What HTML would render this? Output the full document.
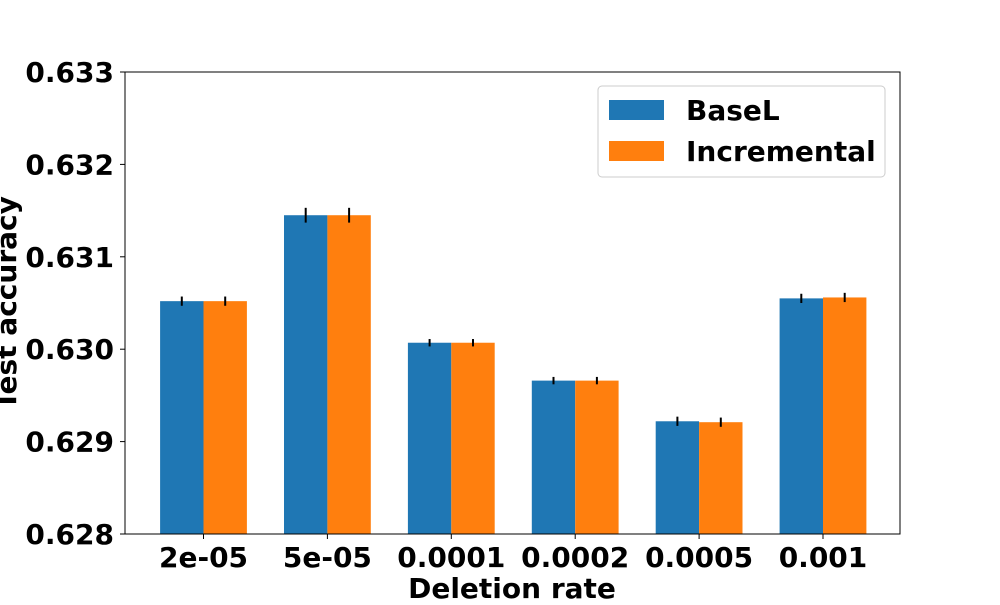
<!DOCTYPE html>
<html><head><meta charset="utf-8"><style>
body{margin:0;background:#fff}
svg text{font-family:"DejaVu Sans","Liberation Sans",sans-serif;font-weight:bold;fill:#000}
</style></head><body>
<svg id="chart" width="1000" height="600"></svg>
<script>
const categories=["2e-05","5e-05","0.0001","0.0002","0.0005","0.001"];
const baseL=[0.63052,0.63145,0.63007,0.62966,0.62922,0.63055];
const incremental=[0.63052,0.63145,0.63007,0.62966,0.62921,0.63056];
const baseErr=[0.00005,0.00008,0.00004,0.00004,0.00005,0.00005];
const incErr=[0.00005,0.00008,0.00004,0.00004,0.00005,0.00005];
const yTicks=[0.628,0.629,0.630,0.631,0.632,0.633];
const NS="http://www.w3.org/2000/svg";
const svg=document.getElementById('chart');
const L=125,R=900,T=72,B=534,ymin=0.628,ymax=0.633;
const y=v=>B-(v-ymin)/(ymax-ymin)*(B-T);
const step=123.9;
const xc=i=>203.5+step*i;
const bw=43.4;
function mk(t,a,txt){const e=document.createElementNS(NS,t);for(const k in a)e.setAttribute(k,a[k]);if(txt!=null)e.textContent=txt;svg.appendChild(e);return e;}
function bar(i,v,err,off,color,name){
 const x0=xc(i)+off;
 const r=mk('rect',{x:x0,y:y(v),width:bw,height:B-y(v),fill:color});
 
 
 const l=mk('line',{x1:x0+bw/2,x2:x0+bw/2,y1:y(v+err),y2:y(v-err),stroke:'#000','stroke-width':2});
 
 
}
categories.forEach((c,i)=>{
 bar(i,baseL[i],baseErr[i],-bw,'#1f77b4','basel');
 bar(i,incremental[i],incErr[i],0,'#ff7f0e','incremental');
 const tk=mk('line',{x1:xc(i),x2:xc(i),y1:B,y2:B+5,stroke:'#000'});
 
 
 const t=mk('text',{x:xc(i),y:B+33,'text-anchor':'middle','font-size':28},c);
 
 
});
yTicks.forEach(v=>{
 const tk=mk('line',{x1:L-5,x2:L,y1:y(v),y2:y(v),stroke:'#000'});
 
 
 const t=mk('text',{x:L-11,y:y(v)+10,'text-anchor':'end','font-size':28},v.toFixed(3));
 
 
});
const ax=mk('rect',{x:L,y:T,width:R-L,height:B-T,fill:'none',stroke:'#000','stroke-width':1});


const xt=mk('text',{x:512,y:598,'text-anchor':'middle','font-size':28},'Deletion rate');


const yt=mk('text',{x:0,y:0,'text-anchor':'middle','font-size':28,transform:'translate(16,303) rotate(-90)'},'Test accuracy');


const lg=mk('rect',{x:598,y:86,width:287,height:91,rx:4,fill:'#fff',stroke:'#ccc'});


[['BaseL','#1f77b4',110],['Incremental','#ff7f0e',151]].forEach(([n,c,yy])=>{
 const s=mk('rect',{x:609,y:yy-10,width:55,height:20,fill:c});
 
 
 const t=mk('text',{x:686,y:yy+10,'font-size':28},n);
 
 
});
</script>
</body></html>
